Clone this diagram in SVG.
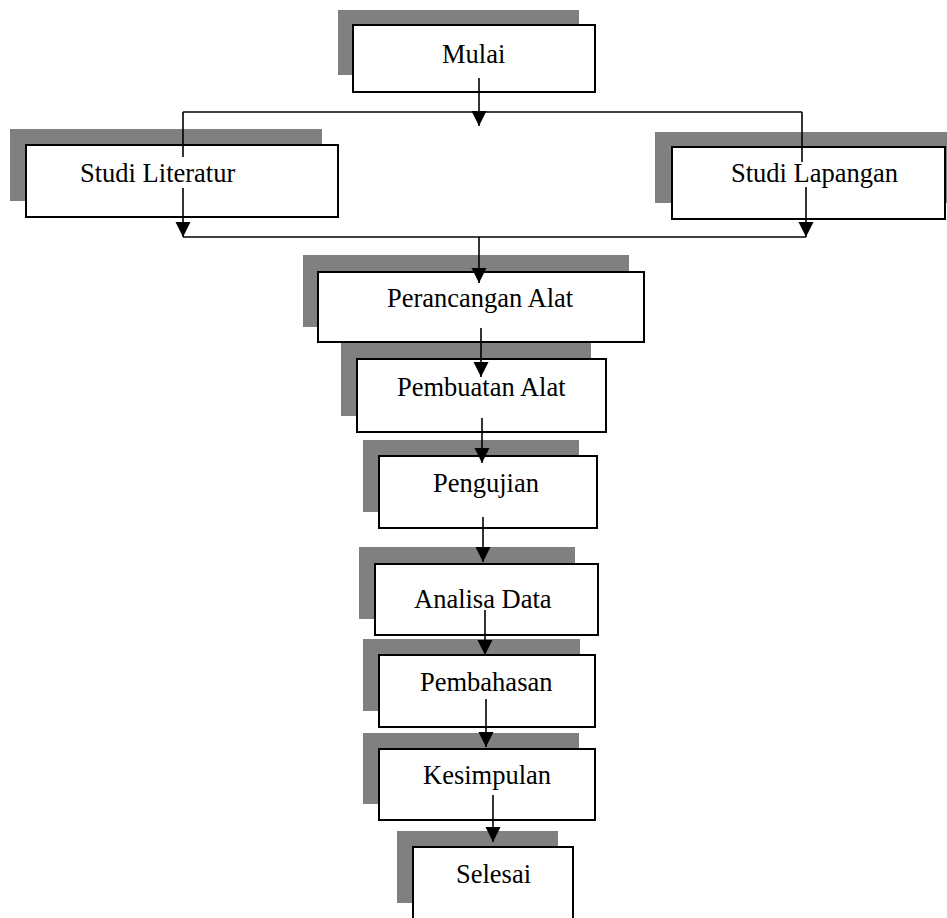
<svg xmlns="http://www.w3.org/2000/svg" width="947" height="918" viewBox="0 0 947 918">
<defs>
<style>
.sh{fill:#808080;stroke:none}
.bx{fill:#fff;stroke:#000;stroke-width:2}
.tx{font-family:"Liberation Serif","Times New Roman",serif;font-size:26.5px;fill:#000}
.ln{fill:none;stroke:#000;stroke-width:1.6}
</style>
<marker id="ah" markerUnits="userSpaceOnUse" markerWidth="16" markerHeight="16" refX="15" refY="7.5" orient="auto">
<path d="M0,0 L15,7.5 L0,15 z" fill="#000"/>
</marker>
</defs>
<rect width="947" height="918" fill="#fff"/>
<g id="mulai"><rect class="sh" x="338" y="10" width="241" height="65"/><rect class="bx" x="353" y="25" width="242" height="67"/><text class="tx" x="442" y="63">Mulai</text></g>
<g id="studi-literatur"><rect class="sh" x="10" y="129" width="312" height="72"/><rect class="bx" x="26" y="145" width="312" height="72"/><text class="tx" x="80" y="182">Studi Literatur</text></g>
<g id="studi-lapangan"><rect class="sh" x="655" y="132" width="292" height="71"/><rect class="bx" x="672" y="147" width="273" height="72"/><text class="tx" x="731" y="182">Studi Lapangan</text></g>
<g id="perancangan"><rect class="sh" x="303" y="255" width="326" height="72"/><rect class="bx" x="318" y="272" width="326" height="70"/><text class="tx" x="387" y="307">Perancangan Alat</text></g>
<g id="pembuatan"><rect class="sh" x="341" y="343" width="250" height="73"/><rect class="bx" x="357" y="359" width="249" height="73"/><text class="tx" x="397" y="396">Pembuatan Alat</text></g>
<g id="pengujian"><rect class="sh" x="363" y="440" width="216" height="72"/><rect class="bx" x="379" y="456" width="218" height="72"/><text class="tx" x="433" y="492">Pengujian</text></g>
<g id="analisa"><rect class="sh" x="359" y="547" width="216" height="72"/><rect class="bx" x="375" y="564" width="223" height="71"/><text class="tx" x="414" y="608">Analisa Data</text></g>
<g id="pembahasan"><rect class="sh" x="363" y="639" width="217" height="72"/><rect class="bx" x="379" y="655" width="216" height="72"/><text class="tx" x="420" y="691">Pembahasan</text></g>
<g id="kesimpulan"><rect class="sh" x="363" y="733" width="216" height="71"/><rect class="bx" x="379" y="749" width="216" height="71"/><text class="tx" x="423" y="784">Kesimpulan</text></g>
<g id="selesai"><rect class="sh" x="397" y="831" width="161" height="72"/><rect class="bx" x="413" y="847" width="160" height="90"/><text class="tx" x="456" y="883">Selesai</text></g>
<g id="connectors">
<path class="ln" d="M479,78 V126" marker-end="url(#ah)"/>
<path class="ln" d="M183,112 H802"/>
<path class="ln" d="M183,112 V157"/>
<path class="ln" d="M802,112 V162"/>
<path class="ln" d="M183,188 V237" marker-end="url(#ah)"/>
<path class="ln" d="M806,187 V237" marker-end="url(#ah)"/>
<path class="ln" d="M183,237 H806"/>
<path class="ln" d="M479,237 V283" marker-end="url(#ah)"/>
<path class="ln" d="M481,328 V377" marker-end="url(#ah)"/>
<path class="ln" d="M482,418 V463" marker-end="url(#ah)"/>
<path class="ln" d="M483,517 V562" marker-end="url(#ah)"/>
<path class="ln" d="M485,610 V655" marker-end="url(#ah)"/>
<path class="ln" d="M486,699 V747" marker-end="url(#ah)"/>
<path class="ln" d="M493,795 V842" marker-end="url(#ah)"/>
</g>
</svg>
